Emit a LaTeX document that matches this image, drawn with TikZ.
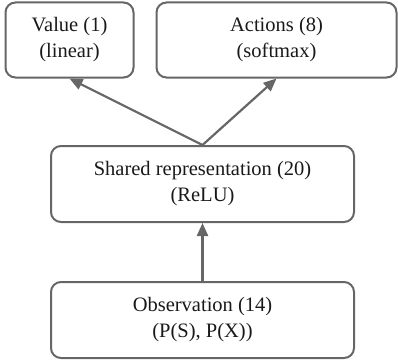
\documentclass[tikz,border=0pt]{standalone}
\usepackage{fontspec}
\setmainfont{Liberation Serif}
\usetikzlibrary{arrows.meta}
\definecolor{edge}{HTML}{666666}
\begin{document}
\begin{tikzpicture}[x=1pt,y=-1pt,
  box/.style={draw=edge, line width=2pt, rounded corners=10pt, align=center,
    inner sep=0pt, font=\fontsize{20.5}{26}\selectfont, text=black!90},
  conn/.style={draw=edge, line width=2.2pt, -{Triangle[length=13pt,width=11pt]}}]
\useasboundingbox (0,0) rectangle (398,361);
\node[box, minimum width=128pt, minimum height=75pt] (val) at (69.5,40) {Value (1)\\(linear)};
\node[box, minimum width=240pt, minimum height=75pt] (act) at (276.5,40) {Actions (8)\\(softmax)};
\node[box, minimum width=303pt, minimum height=76pt] (sh) at (202.5,184) {Shared representation (20)\\(ReLU)};
\node[box, minimum width=303pt, minimum height=76pt] (obs) at (202.5,320) {Observation (14)\\(P(S), P(X))};
\draw[conn] (obs.north) -- (sh.south);
\draw[conn] (sh.north) -- (val.south);
\draw[conn] (sh.north) -- (act.south);
\end{tikzpicture}
\end{document}
